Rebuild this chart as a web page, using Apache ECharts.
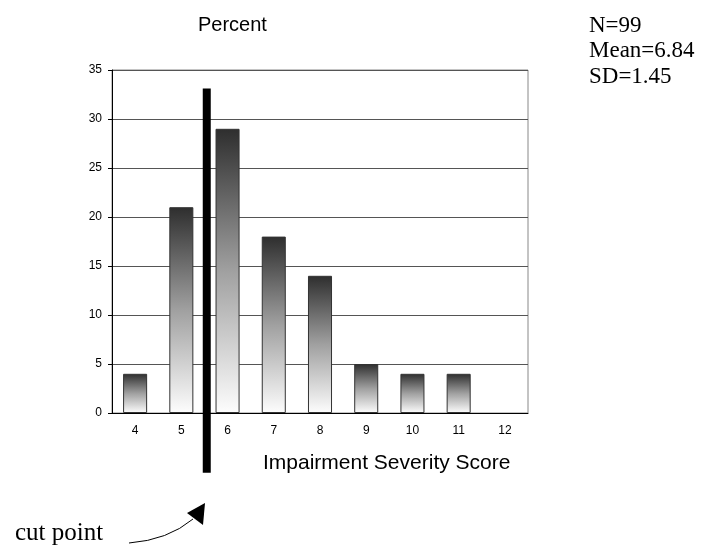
<!DOCTYPE html>
<html><head><meta charset="utf-8">
<script src="https://cdn.jsdelivr.net/npm/echarts@6/dist/echarts.min.js"></script>
<style>html,body{margin:0;padding:0;background:#fff}#c{width:712px;height:545px}</style>
</head><body><div id="c"></div>
<script>
var categories = ['4','5','6','7','8','9','10','11','12'];
var percents = [4, 21, 29, 18, 14, 5, 4, 4, 0];
var yTicks = {min: 0, max: 35, interval: 5};
var cutX = 5.55, cutTop = 33.1, cutBottom = -6.1;
var statsLines = ['N=99', 'Mean=6.84', 'SD=1.45'];

var chart = echarts.init(document.getElementById('c'), null, {renderer: 'canvas'});
var sans = 'Liberation Sans', serif = 'Liberation Serif';
var barData = percents.map(function (v) {
  return v === 0 ? {value: v, itemStyle: {borderWidth: 0}} : v;
});
chart.setOption({
  animation: false,
  grid: {left: 112, right: 184, top: 70, bottom: 132, show: true, borderColor: '#888', borderWidth: 1},
  xAxis: [{
    type: 'category', data: categories, boundaryGap: true,
    axisLine: {lineStyle: {color: '#000', width: 1}},
    axisTick: {length: 5, lineStyle: {color: '#000'}},
    axisLabel: {fontFamily: sans, fontSize: 12, color: '#000', margin: 12},
    splitLine: {show: false}
  }, {
    type: 'value', min: 3.5, max: 12.5, show: false
  }],
  yAxis: {
    type: 'value', min: yTicks.min, max: yTicks.max, interval: yTicks.interval,
    axisLine: {show: true, lineStyle: {color: '#000', width: 1}},
    axisTick: {show: true, length: 4, lineStyle: {color: '#000'}},
    axisLabel: {fontFamily: sans, fontSize: 12, color: '#000', margin: 10},
    splitLine: {show: true, lineStyle: {color: '#555', width: 1}}
  },
  series: [{
    type: 'bar', xAxisIndex: 0, data: barData, barWidth: '52%',
    itemStyle: {
      color: new echarts.graphic.LinearGradient(0, 0, 0, 1, [
        {offset: 0, color: '#2e2e2e'}, {offset: 0.5, color: '#a0a0a0'}, {offset: 1, color: '#fdfdfd'}
      ]),
      borderColor: '#333', borderWidth: 1
    }
  }, {
    type: 'line', xAxisIndex: 1, data: [[cutX, cutTop], [cutX, cutBottom]],
    clip: false, symbol: 'none', silent: true,
    lineStyle: {color: '#000', width: 8, cap: 'butt'}
  }],
  graphic: [
    {type: 'text', left: 198, top: 15, style: {text: 'Percent', font: '20px ' + sans, fill: '#000'}},
    {type: 'text', left: 263, top: 453, style: {text: 'Impairment Severity Score', font: '21px ' + sans, fill: '#000'}},
    {type: 'text', left: 589, top: 13, style: {text: statsLines.join('\n'), font: '23px ' + serif, fill: '#000', lineHeight: 25.5}},
    {type: 'text', left: 15, top: 521, style: {text: 'cut point', font: '25px ' + serif, fill: '#000'}},
    {type: 'bezierCurve', shape: {x1: 129, y1: 543, x2: 193, y2: 519, cpx1: 168, cpy1: 540}, style: {stroke: '#000', lineWidth: 1, fill: null}},
    {type: 'polygon', shape: {points: [[205, 503], [187, 513], [203, 525]]}, style: {fill: '#000'}}
  ]
});
</script></body></html>
